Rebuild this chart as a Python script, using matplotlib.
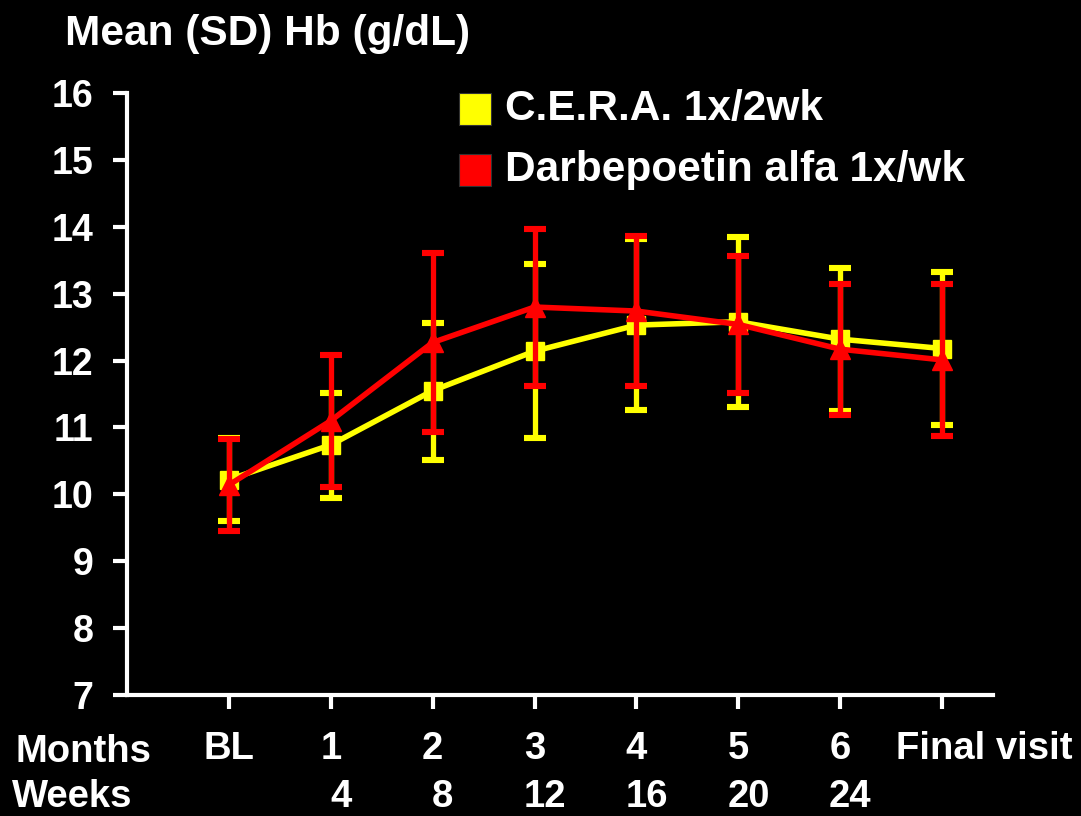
import matplotlib
matplotlib.use("Agg")
import matplotlib.pyplot as plt
import matplotlib.transforms as mtransforms
from matplotlib.patches import Rectangle

plt.rcParams["font.family"] = ["Liberation Sans", "DejaVu Sans"]
plt.rcParams["font.weight"] = "bold"

MONTH_LABELS = ["BL", "1", "2", "3", "4", "5", "6", "Final visit"]
WEEK_LABELS = ["", "4", "8", "12", "16", "20", "24", ""]

# C.E.R.A. 1x/2wk: mean and mean +/- SD
CERA_MEAN = [10.22, 10.74, 11.55, 12.14, 12.53, 12.58, 12.32, 12.18]
CERA_UPPER = [10.84, 11.52, 12.56, 13.44, 13.82, 13.85, 13.38, 13.32]
CERA_LOWER = [9.60, 9.95, 10.51, 10.84, 11.26, 11.31, 11.25, 11.04]

# Darbepoetin alfa 1x/wk
DARBE_MEAN = [10.14, 11.10, 12.27, 12.80, 12.74, 12.54, 12.17, 12.01]
DARBE_UPPER = [10.83, 12.09, 13.61, 13.97, 13.86, 13.56, 13.14, 13.14]
DARBE_LOWER = [9.45, 10.11, 10.93, 11.62, 11.62, 11.51, 11.19, 10.87]

YELLOW = "#ffff00"
RED = "#ff0000"
W, H = 1081, 816

fig = plt.figure(figsize=(W / 100, H / 100), dpi=100, facecolor="black")
ax = fig.add_axes([127 / W, 1 - 695 / H, (993 - 127) / W, (695 - 93) / H])
ax.set_facecolor("black")

x = list(range(len(MONTH_LABELS)))


def draw_series(mean, upper, lower, color, marker, ms, z):
    yerr = [[m - lo for m, lo in zip(mean, lower)], [up - m for m, up in zip(mean, upper)]]
    _, caps, bars = ax.errorbar(
        x, mean, yerr=yerr, color=color, linewidth=4.0, marker=marker,
        markersize=ms, markeredgecolor=color, elinewidth=3.8, capsize=8,
        capthick=4.4, zorder=z,
    )
    for c in caps:
        c.set_solid_capstyle("round")


draw_series(CERA_MEAN, CERA_UPPER, CERA_LOWER, YELLOW, "s", 13, 3)
draw_series(DARBE_MEAN, DARBE_UPPER, DARBE_LOWER, RED, "^", 15, 4)

ax.set_xlim(-1, 7.5)
ax.set_ylim(7, 16)
ax.set_yticks(range(7, 17))
ax.set_xticks(x)
ax.set_xticklabels(MONTH_LABELS)
for side in ("top", "right"):
    ax.spines[side].set_visible(False)
for side in ("left", "bottom"):
    ax.spines[side].set_color("white")
    ax.spines[side].set_linewidth(3)
ax.tick_params(axis="both", colors="white", width=3, length=10, labelsize=27)
ax.tick_params(axis="y", pad=14)
ax.tick_params(axis="x", pad=16, labelsize=27.5)

# "Final visit" sits to the right of its tick in the original
last = ax.get_xticklabels()[-1]
last.set_transform(last.get_transform() + mtransforms.ScaledTranslation(0.42, 0, fig.dpi_scale_trans))

week_tr = mtransforms.blended_transform_factory(ax.transData, fig.transFigure)
for xi, lab in zip(x, WEEK_LABELS):
    if lab:
        ax.text(xi + 0.1, 1 - 797 / H, lab, transform=week_tr, ha="center",
                va="center", color="white", fontsize=27.5)

fig.text(15 / W, 1 - 752 / H, "Months", color="white", fontsize=27.5, va="center")
fig.text(12 / W, 1 - 797 / H, "Weeks", color="white", fontsize=27.5, va="center")
fig.text(65 / W, 1 - 45 / H, "Mean (SD) Hb (g/dL)", color="white", fontsize=30.5,
         va="baseline")

# legend
for (label, color, yc) in [("C.E.R.A. 1x/2wk", YELLOW, 109), ("Darbepoetin alfa 1x/wk", RED, 170)]:
    fig.patches.append(Rectangle((459 / W, 1 - (yc + 16) / H), 32 / W, 32 / H,
                                 transform=fig.transFigure, facecolor=color,
                                 edgecolor="#333333", linewidth=0.8))
    fig.text(505 / W, 1 - yc / H, label, color="white", fontsize=30.5, va="center")

fig.savefig("out.png", dpi=100, facecolor="black")
